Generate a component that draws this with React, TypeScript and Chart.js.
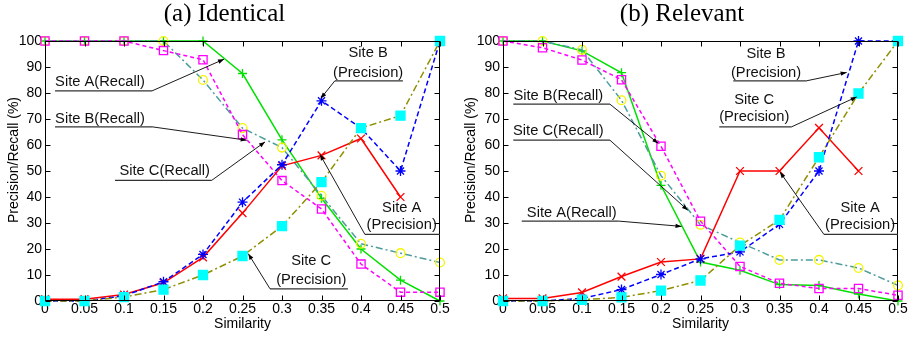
import React, { useEffect, useRef } from "react";
import { Chart, registerables } from "chart.js";

Chart.register(...registerables);

// ---------- data ----------
const SIMILARITY = [0, 0.05, 0.1, 0.15, 0.2, 0.25, 0.3, 0.35, 0.4, 0.45, 0.5];
const X_MIN = 0;
const X_MAX = 0.5;
const X_STEP = 0.05;
const Y_MIN = 0;
const Y_MAX = 100;
const Y_STEP = 10;

// (a) Identical
const ID_A_RECALL = [100, 100, 100, 100, 100, 87.5, 62, 39.5, 20, 8, 0];
const ID_A_PRECISION = [0.7, 0.7, 2.5, 7, 16.8, 33.8, 52, 56, 62.5, 40, null];
const ID_B_RECALL = [100, 100, 100, 100, 85, 66.5, 59, 40.5, 22, 18.4, 14.8];
const ID_B_PRECISION = [0, 0, 2, 7.4, 17.9, 38, 52.4, 77, 66.5, 50, 100];
const ID_C_RECALL = [100, 100, 100, 96.3, 92.8, 64, 46.3, 35.4, 14.2, 3.4, 3.4];
const ID_C_PRECISION = [0, 0, 1.5, 4.4, 10, 17.3, 28.8, 45.7, 66.5, 71.3, 100];

// (b) Relevant
const RE_A_RECALL = [100, 100, 96.2, 87.8, 44.5, 15, 11.8, 6.3, 6, 2.7, 0];
const RE_A_PRECISION = [1, 1, 3.3, 9.4, 15, 16.2, 50, 50, 66.6, 50, null];
const RE_B_RECALL = [100, 100, 96.6, 77.2, 48.2, 29.3, 22.5, 15.8, 15.8, 12.7, 6];
const RE_B_PRECISION = [0, 0, 1, 4.4, 10.2, 16.2, 18.9, 29.5, 50, 100, 100];
const RE_C_RECALL = [100, 97.4, 92.7, 85.1, 59.5, 30.7, 13.3, 6.8, 4.8, 4.8, 2.2];
const RE_C_PRECISION = [0, 0, 0.5, 1.4, 4, 7.9, 21.3, 31.2, 55.3, 79.8, 100];

const PANEL_TITLES = ["(a) Identical", "(b) Relevant"];
const X_TITLE = "Similarity";
const Y_TITLE = "Precision/Recall (%)";

// ---------- styles ----------
const FONT = "'Liberation Sans', Arial, Helvetica, sans-serif";
const SERIF = "'Liberation Serif', 'Times New Roman', serif";

type Style = {
  label: string;
  line: string;
  dash: number[];
  pointStyle: string;
  radius: number;
  pointBorder: string;
  pointFill: string;
};

const STYLES: Record<string, Style> = {
  aRecall: { label: "Site A(Recall)", line: "#00e000", dash: [], pointStyle: "cross", radius: 4.5, pointBorder: "#00e000", pointFill: "#00e000" },
  aPrecision: { label: "Site A(Precision)", line: "#ff0000", dash: [], pointStyle: "crossRot", radius: 5.5, pointBorder: "#ff0000", pointFill: "#ff0000" },
  bRecall: { label: "Site B(Recall)", line: "#4c9c9c", dash: [7, 3, 2, 3], pointStyle: "circle", radius: 4.4, pointBorder: "#f4f400", pointFill: "rgba(255,255,255,0)" },
  bPrecision: { label: "Site B(Precision)", line: "#0000ff", dash: [5, 3], pointStyle: "star", radius: 5, pointBorder: "#0000ff", pointFill: "#0000ff" },
  cRecall: { label: "Site C(Recall)", line: "#ff00ff", dash: [4, 3], pointStyle: "rect", radius: 5.8, pointBorder: "#ff00ff", pointFill: "rgba(255,255,255,0)" },
  cPrecision: { label: "Site C(Precision)", line: "#8f8f00", dash: [7, 3, 2, 3], pointStyle: "rect", radius: 6.4, pointBorder: "#00ffff", pointFill: "#00ffff" },
};

type Note = {
  lines: string[];
  tx: number;
  ty: number[];
  ux: [number, number];
  uy: number;
  end: "left" | "right";
  target: [number, number];
};

const NOTES_IDENTICAL: Note[] = [
  { lines: ["Site A(Recall)"], tx: 0.0696, ty: [84.3], ux: [0.0127, 0.1354], uy: 80.8, end: "right", target: [0.2266, 93] },
  { lines: ["Site B(Recall)"], tx: 0.0696, ty: [70.2], ux: [0.0127, 0.1354], uy: 67.0, end: "right", target: [0.2553, 61.85] },
  { lines: ["Site C(Recall)"], tx: 0.1515, ty: [50.0], ux: [0.0886, 0.211], uy: 46.4, end: "right", target: [0.2785, 61.2] },
  { lines: ["Site B", "(Precision)"], tx: 0.409, ty: [95.3, 87.8], ux: [0.367, 0.453], uy: 84.7, end: "left", target: [0.349, 77.9] },
  { lines: ["Site A", "(Precision)"], tx: 0.4515, ty: [35.9, 29.1], ux: [0.405, 0.5], uy: 25.6, end: "left", target: [0.348, 56.4] },
  { lines: ["Site C", "(Precision)"], tx: 0.337, ty: [15.3, 8.2], ux: [0.2848, 0.3835], uy: 4.7, end: "left", target: [0.2573, 18.2] },
];

const NOTES_RELEVANT: Note[] = [
  { lines: ["Site B(Recall)"], tx: 0.07, ty: [78.9], ux: [0.013, 0.1354], uy: 75.7, end: "right", target: [0.1966, 60.6] },
  { lines: ["Site C(Recall)"], tx: 0.07, ty: [65.4], ux: [0.013, 0.1354], uy: 61.85, end: "right", target: [0.234, 34.9] },
  { lines: ["Site A(Recall)"], tx: 0.087, ty: [34.0], ux: [0.0237, 0.1456], uy: 30.75, end: "right", target: [0.226, 28.7] },
  { lines: ["Site B", "(Precision)"], tx: 0.333, ty: [95.0, 87.9], ux: [0.2915, 0.3844], uy: 84.7, end: "right", target: [0.435, 87.9] },
  { lines: ["Site C", "(Precision)"], tx: 0.318, ty: [77.3, 70.6], ux: [0.2738, 0.3654], uy: 67.0, end: "right", target: [0.4477, 78.5] },
  { lines: ["Site A", "(Precision)"], tx: 0.452, ty: [35.9, 29.1], ux: [0.4063, 0.5], uy: 25.6, end: "left", target: [0.3506, 49.6] },
];

type PanelSpec = {
  title: string;
  width: number;
  axisWidth: number;
  series: Record<string, (number | null)[]>;
  notes: Note[];
};

const PANELS: PanelSpec[] = [
  {
    title: PANEL_TITLES[0],
    width: 457,
    axisWidth: 45,
    series: { aRecall: ID_A_RECALL, aPrecision: ID_A_PRECISION, bRecall: ID_B_RECALL, bPrecision: ID_B_PRECISION, cRecall: ID_C_RECALL, cPrecision: ID_C_PRECISION },
    notes: NOTES_IDENTICAL,
  },
  {
    title: PANEL_TITLES[1],
    width: 458,
    axisWidth: 46,
    series: { aRecall: RE_A_RECALL, aPrecision: RE_A_PRECISION, bRecall: RE_B_RECALL, bPrecision: RE_B_PRECISION, cRecall: RE_C_RECALL, cPrecision: RE_C_PRECISION },
    notes: NOTES_RELEVANT,
  },
];

const HEIGHT = 337;
const DRAW_ORDER = ["cPrecision", "bPrecision", "aPrecision", "cRecall", "bRecall", "aRecall"];

const decorPlugin = {
  id: "decor",
  afterDatasetsDraw(chart: any, _args: any, opts: any) {
    const { ctx, chartArea: ca, scales } = chart;
    const xs = scales.x;
    const ys = scales.y;
    ctx.save();
    // frame
    ctx.strokeStyle = "#000";
    ctx.lineWidth = 1;
    ctx.setLineDash([]);
    const L = Math.round(ca.left) + 0.5;
    const R = Math.round(ca.right) - 0.5;
    const T = Math.round(ca.top) + 0.5;
    const B = Math.round(ca.bottom) - 0.5;
    ctx.strokeRect(L, T, R - L, B - T);
    const tl = 5;
    ctx.beginPath();
    xs.ticks.forEach((t: any) => {
      const px = Math.round(xs.getPixelForValue(t.value)) + 0.5;
      ctx.moveTo(px, B);
      ctx.lineTo(px, B - tl);
      ctx.moveTo(px, T);
      ctx.lineTo(px, T + tl);
    });
    ys.ticks.forEach((t: any) => {
      const py = Math.round(ys.getPixelForValue(t.value)) + 0.5;
      ctx.moveTo(L, py);
      ctx.lineTo(L + tl, py);
      ctx.moveTo(R, py);
      ctx.lineTo(R - tl, py);
    });
    ctx.stroke();

    // annotations
    const notes: Note[] = opts.notes || [];
    ctx.font = `14.7px ${FONT}`;
    ctx.textAlign = "center";
    ctx.textBaseline = "middle";
    notes.forEach((n) => {
      const cx = xs.getPixelForValue(n.tx);
      ctx.fillStyle = "#111";
      n.lines.forEach((s, i) => ctx.fillText(s, cx, ys.getPixelForValue(n.ty[i])));
      const uy = ys.getPixelForValue(n.uy);
      const u0 = xs.getPixelForValue(n.ux[0]);
      const u1 = xs.getPixelForValue(n.ux[1]);
      ctx.strokeStyle = "#333";
      ctx.lineWidth = 1.3;
      ctx.beginPath();
      ctx.moveTo(u0, uy);
      ctx.lineTo(u1, uy);
      ctx.stroke();
      const sx = n.end === "left" ? u0 : u1;
      const ex = xs.getPixelForValue(n.target[0]);
      const ey = ys.getPixelForValue(n.target[1]);
      ctx.strokeStyle = "#000";
      ctx.lineWidth = 0.9;
      ctx.beginPath();
      ctx.moveTo(sx, uy);
      ctx.lineTo(ex, ey);
      ctx.stroke();
      const ang = Math.atan2(ey - uy, ex - sx);
      const al = 6;
      const aw = 2.2;
      ctx.fillStyle = "#000";
      ctx.beginPath();
      ctx.moveTo(ex, ey);
      ctx.lineTo(ex - al * Math.cos(ang) + aw * Math.sin(ang), ey - al * Math.sin(ang) - aw * Math.cos(ang));
      ctx.lineTo(ex - al * Math.cos(ang) - aw * Math.sin(ang), ey - al * Math.sin(ang) + aw * Math.cos(ang));
      ctx.closePath();
      ctx.fill();
    });

    // panel title
    ctx.fillStyle = "#000";
    ctx.font = `25px ${SERIF}`;
    ctx.textAlign = "center";
    ctx.textBaseline = "middle";
    ctx.fillText(opts.title || "", chart.width / 2 - 4, 14);

    // y title
    ctx.font = `14px ${FONT}`;
    ctx.translate(14, (ca.top + ca.bottom) / 2 - 11);
    ctx.rotate(-Math.PI / 2);
    ctx.fillText(Y_TITLE, 0, 0);
    ctx.restore();
  },
};

function Panel({ spec }: { spec: PanelSpec }) {
  const ref = useRef<HTMLCanvasElement>(null);
  useEffect(() => {
    const datasets = DRAW_ORDER.map((key) => {
      const st = STYLES[key];
      const vals = spec.series[key];
      return {
        label: st.label,
        data: SIMILARITY.map((x, i) => ({ x, y: vals[i] })),
        borderColor: st.line,
        borderWidth: 1.5,
        borderDash: st.dash,
        backgroundColor: st.pointFill,
        pointStyle: st.pointStyle,
        pointRadius: st.radius,
        pointHoverRadius: st.radius,
        pointBorderColor: st.pointBorder,
        pointBackgroundColor: st.pointFill,
        pointBorderWidth: 1.3,
        tension: 0,
        fill: false,
        spanGaps: false,
        clip: false as any,
      };
    });
    const chart = new Chart(ref.current!, {
      type: "line",
      data: { datasets: datasets as any },
      options: {
        responsive: false,
        animation: false,
        events: [],
        layout: { padding: { top: 41, right: 17, bottom: 0, left: 0 } },
        plugins: {
          legend: { display: false },
          title: { display: false },
          tooltip: { enabled: false },
          decor: { notes: spec.notes, title: spec.title },
        } as any,
        scales: {
          x: {
            type: "linear",
            min: X_MIN,
            max: X_MAX,
            grid: { display: false, drawTicks: false },
            border: { display: false },
            ticks: {
              stepSize: X_STEP,
              padding: 0,
              maxRotation: 0,
              autoSkip: false,
              color: "#000",
              font: { family: FONT, size: 14 },
              callback: (v: any) => String(+Number(v).toFixed(2)),
            },
            title: {
              display: true,
              text: X_TITLE,
              color: "#000",
              font: { family: FONT, size: 14 },
              padding: { top: 0, bottom: 4.6 },
            },
            afterFit: (s: any) => {
              s.height = 36;
            },
          },
          y: {
            min: Y_MIN,
            max: Y_MAX,
            grid: { display: false, drawTicks: false },
            border: { display: false },
            ticks: {
              stepSize: Y_STEP,
              padding: 3,
              color: "#000",
              font: { family: FONT, size: 14 },
            },
            afterFit: (s: any) => {
              s.width = spec.axisWidth;
            },
          },
        },
      },
      plugins: [decorPlugin as any],
    });
    return () => chart.destroy();
  }, [spec]);
  return <canvas ref={ref} width={spec.width} height={HEIGHT} style={{ display: "block" }} />;
}

export default function App() {
  return (
    <div style={{ position: "absolute", left: 0, top: 0, display: "flex", width: 915, height: HEIGHT, background: "#fff" }}>
      {PANELS.map((p) => (
        <Panel key={p.title} spec={p} />
      ))}
    </div>
  );
}
